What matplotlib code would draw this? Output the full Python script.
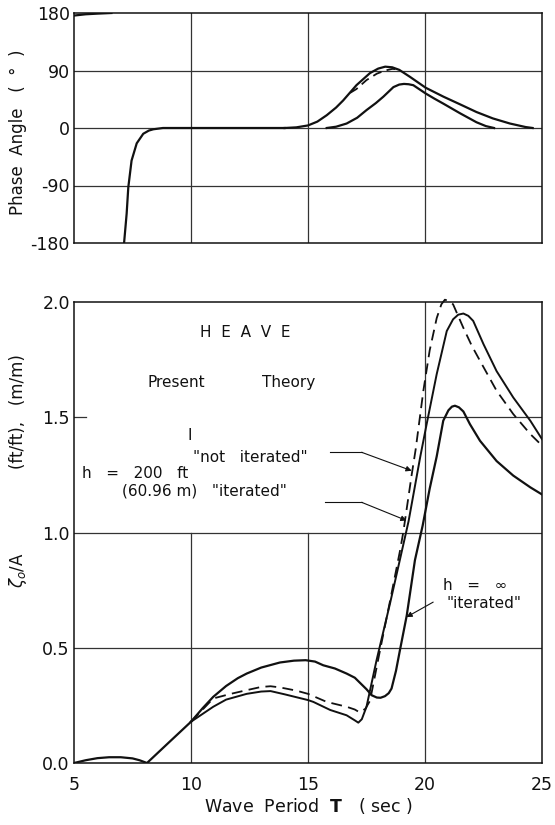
import matplotlib
matplotlib.use("Agg")
import matplotlib.pyplot as plt

# ---------------- data: phase angle (top) ----------------
ph_wrap_T = [5.0, 5.5, 6.0, 6.6]
ph_wrap_v = [176, 178, 179, 180]

ph_low_T = [7.14, 7.2, 7.25, 7.32, 7.46, 7.68, 7.96, 8.2, 8.39, 8.8, 10.0, 14.0]
ph_low_v = [-180, -155, -134, -93, -51, -24, -9, -4, -2, 0, 0, 0]

ph_200_T = [14.0, 14.5, 15.0, 15.4, 15.8, 16.2, 16.5, 17.07, 17.65, 18.0, 18.3,
            18.6, 18.9, 19.36, 20.03, 20.79, 21.5, 22.2, 22.9, 23.63, 24.3, 24.6]
ph_200_v = [0, 1, 4, 10, 20, 32, 43, 67, 86, 93, 96, 95, 91, 80, 63, 49, 37, 25,
            15, 7, 1.5, 0]

ph_not_T = [16.8, 17.07, 17.5, 17.94, 18.3, 18.6, 18.8]
ph_not_v = [55, 61, 75, 85, 90, 92.5, 92]

ph_inf_T = [15.8, 16.2, 16.65, 17.1, 17.5, 17.9, 18.22, 18.65, 18.9, 19.1, 19.3,
            19.5, 20.03, 20.4, 20.79, 21.5, 22.2, 22.6, 22.95]
ph_inf_v = [0, 2, 7, 16, 28, 39, 49, 64, 68, 69, 68.5, 67, 54, 46, 38, 23, 9, 3, 0]

# ---------------- data: heave amplitude (bottom) ----------------
hv_low_T = [5.0, 5.5, 6.0, 6.5, 7.0, 7.5, 7.8, 8.12, 9.0, 10.0]
hv_low_v = [0.0, 0.012, 0.021, 0.025, 0.025, 0.02, 0.012, 0.0, 0.084, 0.179]

hv_inf_T = [10.0, 10.5, 10.95, 11.5, 12.0, 12.38, 13.0, 13.8, 14.4, 14.9, 15.3,
            15.65, 16.15, 16.65, 17.0, 17.5, 17.72, 17.94, 18.1, 18.29, 18.45,
            18.57, 18.76, 18.93, 19.22, 19.57, 19.9, 20.2, 20.5, 20.78, 21.0,
            21.15, 21.28, 21.45, 21.64, 21.92, 22.35, 23.06, 23.77, 24.5, 25.0]
hv_inf_v = [0.179, 0.238, 0.287, 0.334, 0.368, 0.388, 0.414, 0.436, 0.444,
            0.446, 0.44, 0.424, 0.41, 0.388, 0.37, 0.32, 0.294, 0.284, 0.283,
            0.29, 0.303, 0.323, 0.40, 0.49, 0.64, 0.88, 1.03, 1.19, 1.33, 1.485,
            1.53, 1.546, 1.55, 1.543, 1.525, 1.47, 1.398, 1.31, 1.247, 1.196, 1.165]

hv_not_T = [10.0, 10.95, 11.7, 12.38, 13.0, 13.4, 13.8, 14.5, 15.0, 15.8, 16.65,
            17.0, 17.2, 17.45, 17.65, 18.08, 18.5, 18.93, 19.07, 19.43, 19.6,
            19.93, 20.2, 20.5, 20.7, 20.85, 21.0, 21.2, 21.63, 22.0, 22.35,
            23.06, 23.77, 24.5, 25.0]
hv_not_v = [0.179, 0.28, 0.30, 0.316, 0.33, 0.333, 0.328, 0.314, 0.30, 0.265,
            0.244, 0.232, 0.22, 0.235, 0.27, 0.49, 0.70, 0.92, 1.0, 1.25, 1.36,
            1.615, 1.79, 1.93, 1.99, 2.01, 2.005, 1.99, 1.89, 1.81, 1.745,
            1.615, 1.514, 1.427, 1.377]

hv_200_T = [10.0, 10.95, 11.5, 12.38, 13.0, 13.4, 14.0, 15.0, 15.23, 15.95,
            16.65, 17.0, 17.15, 17.3, 17.5, 17.93, 18.5, 19.19, 19.3, 19.8,
            20.07, 20.5, 20.93, 21.2, 21.42, 21.64, 21.85, 22.06, 22.5, 23.06,
            23.77, 24.5, 25.0]
hv_200_v = [0.179, 0.244, 0.275, 0.30, 0.31, 0.312, 0.298, 0.273, 0.265, 0.23,
            0.207, 0.185, 0.175, 0.19, 0.244, 0.446, 0.69, 1.0, 1.05, 1.33,
            1.47, 1.687, 1.874, 1.925, 1.945, 1.95, 1.94, 1.918, 1.817, 1.70,
            1.586, 1.485, 1.405]

phase_ticks = [180, 90, 0, -90, -180]
heave_ticks = [0.0, 0.5, 1.0, 1.5, 2.0]
heave_ticklabels = ["0.0", "0.5", "1.0", "1.5", "2.0"]
period_ticks = [5, 10, 15, 20, 25]

# annotation leader lines (data coords)
lead_not_T = [15.94, 17.29, 19.43]
lead_not_v = [1.348, 1.348, 1.268]
lead_it_T = [15.73, 17.29, 19.21]
lead_it_v = [1.131, 1.131, 1.052]
lead_inf_T = [20.35, 19.21]
lead_inf_v = [0.698, 0.633]

# ---------------- figure ----------------
plt.rcParams['font.family'] = ['DejaVu Sans']
W, H = 555, 825
fig = plt.figure(figsize=(W / 100, H / 100), dpi=100)
ax1 = fig.add_axes([74 / W, 1 - 243 / H, 468 / W, 230 / H])
ax2 = fig.add_axes([74 / W, 1 - 763 / H, 468 / W, 461 / H])

ink = "#111111"
gridc = "#333333"
lw = 1.6

for ax in (ax1, ax2):
    for s in ax.spines.values():
        s.set_linewidth(1.1)
        s.set_color(ink)
    ax.tick_params(length=0, labelsize=12.5, colors=ink, pad=3)

# top axes
ax1.set_xlim(5, 25)
ax1.set_ylim(-180, 180)
ax1.set_xticks([])
ax1.set_yticks(phase_ticks)
ax1.set_yticklabels([str(t) for t in phase_ticks])
for y in (90, 0, -90):
    ax1.axhline(y, color=gridc, lw=0.9, zorder=1)
for x in (10, 15, 20):
    ax1.axvline(x, color=gridc, lw=0.9, zorder=1)

ax1.plot(ph_wrap_T, ph_wrap_v, color=ink, lw=lw, zorder=3)
ax1.plot(ph_low_T, ph_low_v, color=ink, lw=lw, zorder=3)
ax1.plot(ph_200_T, ph_200_v, color=ink, lw=lw, zorder=3)
ax1.plot(ph_not_T, ph_not_v, color=ink, lw=1.3, dashes=(5, 3), zorder=3)
ax1.plot(ph_inf_T, ph_inf_v, color=ink, lw=lw, zorder=3)

fig.text(18 / W, 1 - 132 / H, "Phase  Angle   (  \u00b0  )", rotation=90,
         ha="center", va="center", fontsize=12, color=ink)

# bottom axes
ax2.set_xlim(5, 25)
ax2.set_ylim(0, 2.0)
ax2.set_xticks(period_ticks)
ax2.set_xticklabels([str(t) for t in period_ticks])
ax2.set_yticks(heave_ticks)
ax2.set_yticklabels(heave_ticklabels)
ax2.tick_params(axis="x", pad=9)

ax2.axhline(0.5, color=gridc, lw=0.9, zorder=1)
ax2.axhline(1.0, color=gridc, lw=0.9, zorder=1)
ax2.plot([19.8, 25], [1.5, 1.5], color=gridc, lw=0.9, zorder=1)
ax2.plot([5, 5.5], [1.5, 1.5], color=gridc, lw=0.9, zorder=1)
ax2.plot([10, 10], [0, 1.0], color=gridc, lw=0.9, zorder=1)
ax2.plot([15, 15], [0, 1.0], color=gridc, lw=0.9, zorder=1)
ax2.axvline(20, color=gridc, lw=0.9, zorder=1)

ax2.plot(hv_low_T, hv_low_v, color=ink, lw=lw, zorder=3)
ax2.plot(hv_inf_T, hv_inf_v, color=ink, lw=lw, zorder=3)
ax2.plot(hv_200_T, hv_200_v, color=ink, lw=1.4, zorder=3)
ax2.plot(hv_not_T, hv_not_v, color=ink, lw=1.3, dashes=(6, 3.5), zorder=3,
         clip_on=False)

tk = dict(color=ink, fontsize=11)
ax2.text(12.3, 1.866, "H  E  A  V  E", ha="center", va="center", **tk)
ax2.text(8.12, 1.65, "Present", ha="left", va="center", **tk)
ax2.text(13.03, 1.65, "Theory", ha="left", va="center", **tk)
ax2.text(9.96, 1.42, "I", ha="center", va="center", **tk)
ax2.text(10.09, 1.325, "\"not   iterated\"", ha="left", va="center", **tk)
ax2.text(5.34, 1.255, "h   =   200   ft", ha="left", va="center", **tk)
ax2.text(7.05, 1.18, "(60.96 m)   \"iterated\"", ha="left", va="center", **tk)
ax2.text(20.77, 0.77, "h   =   \u221e", ha="left", va="center", **tk)
ax2.text(20.94, 0.69, "\"iterated\"", ha="left", va="center", **tk)

for LT, LV in ((lead_not_T, lead_not_v), (lead_it_T, lead_it_v), (lead_inf_T, lead_inf_v)):
    ax2.plot(LT[:-1], LV[:-1], color=ink, lw=0.8, zorder=2)
    ax2.annotate("", xy=(LT[-1], LV[-1]), xytext=(LT[-2], LV[-2]),
                 arrowprops=dict(arrowstyle="-|>", color=ink, lw=0.8,
                                 mutation_scale=8, shrinkA=0, shrinkB=0),
                 zorder=4)

fig.text(18 / W, 1 - 570 / H, r"$\zeta_o$/A", rotation=90,
         ha="center", va="center", fontsize=12, color=ink)
fig.text(18 / W, 1 - 412 / H, "(ft/ft),   (m/m)", rotation=90,
         ha="center", va="center", fontsize=12, color=ink)
fig.text(308 / W, 1 - 806 / H, r"Wave  Period  $\mathbf{T}$   ( sec )",
         ha="center", va="center", fontsize=12.5, color=ink)

fig.savefig("out.png", dpi=100)
